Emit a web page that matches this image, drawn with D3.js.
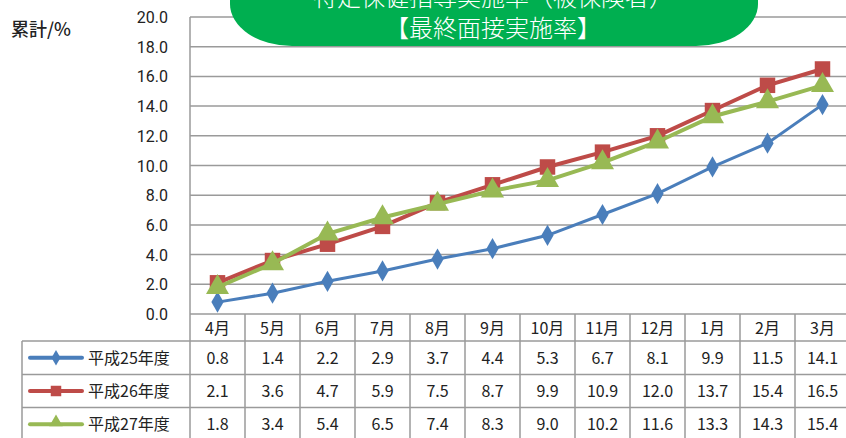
<!DOCTYPE html>
<html><head><meta charset="utf-8">
<script src="https://cdn.jsdelivr.net/npm/d3@7"></script>
<style>
html,body{margin:0;padding:0;background:#fff;}
svg{display:block;font-family:"Noto Sans CJK JP","Noto Sans",sans-serif;}
</style></head>
<body>
<svg id="c" width="846" height="438"></svg>
<script>
const months = ["4月","5月","6月","7月","8月","9月","10月","11月","12月","1月","2月","3月"];
const seriesNames = ["平成25年度","平成26年度","平成27年度"];
const h25 = [0.8,1.4,2.2,2.9,3.7,4.4,5.3,6.7,8.1,9.9,11.5,14.1];
const h26 = [2.1,3.6,4.7,5.9,7.5,8.7,9.9,10.9,12.0,13.7,15.4,16.5];
const h27 = [1.8,3.4,5.4,6.5,7.4,8.3,9.0,10.2,11.6,13.3,14.3,15.4];
const yTicks = [0,2,4,6,8,10,12,14,16,18,20];
const titleLines = ["特定保健指導実施率（被保険者）","【最終面接実施率】"];
const yLabel = "累計/%";

const series = [
  {name: seriesNames[0], values: h25, color: "#4A7EBB", marker: "diamond"},
  {name: seriesNames[1], values: h26, color: "#BE4B48", marker: "square"},
  {name: seriesNames[2], values: h27, color: "#98B954", marker: "triangle"}
];

const svg = d3.select("#c");
const L = 190, R = 850, T = 17, B = 314;
const x = d3.scaleBand().domain(months).range([L, R]).padding(0);
const y = d3.scaleLinear().domain([0, 20]).range([B, T]);
const grid = "#9a9a9a";

// gridlines
svg.append("g").selectAll("line").data(yTicks).join("line")
  .attr("x1", L).attr("x2", R)
  .attr("y1", d => y(d)).attr("y2", d => y(d))
  .attr("stroke", grid).attr("stroke-width", 1.5);
svg.append("line").attr("x1", L).attr("x2", L).attr("y1", T).attr("y2", 440)
  .attr("stroke", grid).attr("stroke-width", 1.5);

// y axis labels
svg.append("g").selectAll("text").data(yTicks).join("text")
  .attr("x", 168).attr("y", d => y(d) + 6)
  .attr("text-anchor", "end").attr("font-size", 16).attr("fill", "#222")
  .attr("font-family", "Roboto, 'Noto Sans', sans-serif")
  .text(d => d.toFixed(1));
svg.append("text").attr("x", 11).attr("y", 36).attr("font-size", 18)
  .attr("fill", "#222").attr("font-weight", 500).text(yLabel);

// title box
svg.append("rect").attr("x", 230).attr("y", -60).attr("width", 528).attr("height", 106)
  .attr("rx", 62).attr("ry", 42).attr("fill", "#00AF50");
svg.append("text").attr("x", 493).attr("y", 6).attr("text-anchor", "middle")
  .attr("font-size", 24).attr("font-weight", 300).attr("fill", "#fff").text(titleLines[0]);
svg.append("text").attr("x", 493).attr("y", 37).attr("text-anchor", "middle")
  .attr("font-size", 24).attr("font-weight", 300).attr("fill", "#fff").text(titleLines[1]);

// table
const rowTop = [314, 341, 374.5, 407.5];
const rowBot = [341, 374.5, 407.5, 441];
const tbl = svg.append("g");
months.forEach(m => {
  tbl.append("line").attr("x1", x(m) + x.bandwidth()).attr("x2", x(m) + x.bandwidth())
    .attr("y1", B).attr("y2", 440).attr("stroke", grid).attr("stroke-width", 1.5);
});
[341, 374.5, 407.5].forEach(yy => {
  tbl.append("line").attr("x1", 22).attr("x2", R).attr("y1", yy).attr("y2", yy)
    .attr("stroke", grid).attr("stroke-width", 1.5);
});
tbl.append("line").attr("x1", 22).attr("x2", 22).attr("y1", 341).attr("y2", 440)
  .attr("stroke", grid).attr("stroke-width", 1.5);
tbl.selectAll("text.h").data(months).join("text").attr("class", "h")
  .attr("x", d => x(d) + x.bandwidth() / 2).attr("y", 334)
  .attr("text-anchor", "middle").attr("font-size", 16).attr("fill", "#222").text(d => d);

const symType = {diamond: d3.symbolDiamond, square: d3.symbolSquare, triangle: d3.symbolTriangle};
const symSize = {diamond: 130, square: 240, triangle: 230};

series.forEach((s, i) => {
  const cy = (rowTop[i + 1] + rowBot[i + 1]) / 2;
  tbl.selectAll("text.v" + i).data(s.values).join("text").attr("class", "v" + i)
    .attr("x", (d, j) => x(months[j]) + x.bandwidth() / 2).attr("y", cy + 6)
    .attr("text-anchor", "middle").attr("font-size", 16).attr("fill", "#222")
    .text(d => d.toFixed(1));
  tbl.append("line").attr("x1", 30).attr("x2", 82).attr("y1", cy).attr("y2", cy)
    .attr("stroke", s.color).attr("stroke-width", 4).attr("stroke-linecap", "round");
  const ls = {diamond: 70, square: 110, triangle: 80}[s.marker];
  tbl.append("path").attr("d", d3.symbol().type(symType[s.marker]).size(ls)())
    .attr("transform", `translate(56,${cy - (s.marker === "triangle" ? 2 : 0)})`).attr("fill", s.color);
  tbl.append("text").attr("x", 88).attr("y", cy + 6).attr("font-size", 16)
    .attr("fill", "#222").text(s.name);
});

// lines
const line = d3.line().x((d, j) => x(months[j]) + x.bandwidth() / 2).y(d => y(d));
series.forEach(s => {
  const g = svg.append("g");
  g.append("path").datum(s.values).attr("d", line).attr("fill", "none")
    .attr("stroke", s.color).attr("stroke-width", s.marker === "diamond" ? 3 : 4);
  g.selectAll("path.m").data(s.values).join("path").attr("class", "m")
    .attr("d", d3.symbol().type(symType[s.marker]).size(symSize[s.marker])())
    .attr("transform", (d, j) => `translate(${x(months[j]) + x.bandwidth() / 2},${y(d)})`)
    .attr("fill", s.color);
});
</script>
</body></html>
